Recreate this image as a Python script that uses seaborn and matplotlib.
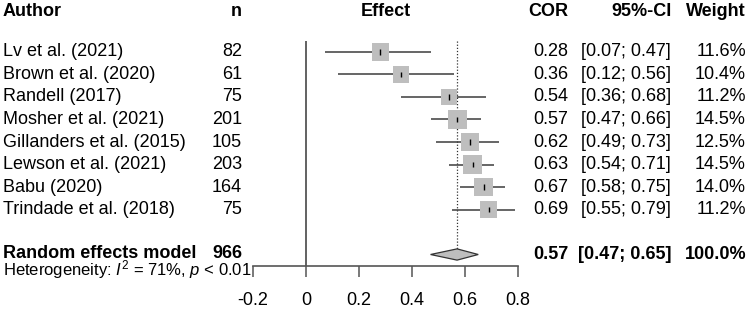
import numpy as np
import pandas as pd
import matplotlib
matplotlib.use("Agg")
import matplotlib.pyplot as plt
import matplotlib.transforms as mtransforms
import seaborn as sns

# study level data
authors = ["Lv et al. (2021)", "Brown et al. (2020)", "Randell (2017)", "Mosher et al. (2021)",
           "Gillanders et al. (2015)", "Lewson et al. (2021)", "Babu (2020)", "Trindade et al. (2018)"]
n_obs = [82, 61, 75, 201, 105, 203, 164, 75]
cor = [0.28, 0.36, 0.54, 0.57, 0.62, 0.63, 0.67, 0.69]
ci_lo = [0.07, 0.12, 0.36, 0.47, 0.49, 0.54, 0.58, 0.55]
ci_hi = [0.47, 0.56, 0.68, 0.66, 0.73, 0.71, 0.75, 0.79]
weights = [11.6, 10.4, 11.2, 14.5, 12.5, 14.5, 14.0, 11.2]

# pooled estimate
re_label = "Random effects model"
re_n = 966
re_cor = 0.57
re_lo = 0.47
re_hi = 0.65
re_weight = 100.0
i2 = 71

xticks = [-0.2, 0, 0.2, 0.4, 0.6, 0.8]
xtick_labels = ["-0.2", "0", "0.2", "0.4", "0.6", "0.8"]

df = pd.DataFrame(dict(author=authors, n=n_obs, cor=cor, lo=ci_lo, hi=ci_hi, weight=weights))
df["row"] = np.arange(len(df))
re_row = len(df) + 1

sns.set_theme(style="white")
plt.rcParams["font.family"] = ["Liberation Sans", "DejaVu Sans"]
plt.rcParams["text.color"] = "black"
plt.rcParams["mathtext.fontset"] = "custom"
plt.rcParams["mathtext.rm"] = "Liberation Sans"
plt.rcParams["mathtext.it"] = "Liberation Sans:italic"

W, H = 750, 309
fig = plt.figure(figsize=(W / 100, H / 100), dpi=100)
ax = fig.add_axes([253 / W, 43 / H, 265 / W, 266 / H])
ax.set_xlim(-0.2, 0.8)
ax.set_ylim(9.511, -2.311)

line_col = "#3c3c3c"
box_col = "#bebebe"

# reference lines
ax.vlines(0, -0.5, 9.511, color="#555555", lw=1.3, zorder=1)
ax.vlines(re_cor, -0.5, re_row - 0.25, color="#333333", lw=0.9, linestyles=(0, (1, 1.5)), zorder=1)

# confidence intervals
ax.hlines(df["row"], df["lo"], df["hi"], color=line_col, lw=1.1, zorder=2)

# weighted boxes
sns.scatterplot(data=df, x="cor", y="row", size="weight", sizes=(0, 1296), size_norm=(0, 100),
                marker="s", color=box_col, edgecolor="none", linewidth=0, legend=False, ax=ax, zorder=3)
ax.vlines(df["cor"], df["row"] - 0.13, df["row"] + 0.13, color="black", lw=1.0, zorder=4)

# diamond for pooled effect
ax.fill([re_lo, re_cor, re_hi, re_cor], [re_row, re_row - 0.25, re_row, re_row + 0.25],
        facecolor=box_col, edgecolor="#333333", lw=0.9, zorder=3)

ax.set_xlabel("")
ax.set_ylabel("")
ax.set_yticks([])
ax.set_xticks(xticks)
ax.set_xticklabels(xtick_labels)
for s in ["left", "right", "top"]:
    ax.spines[s].set_visible(False)
ax.spines["bottom"].set_color("#555555")
ax.spines["bottom"].set_linewidth(1.2)
ax.tick_params(axis="x", direction="out", length=8, width=1.1, color="#555555", pad=11,
               labelsize=13, labelcolor="black", bottom=True)

trans = mtransforms.blended_transform_factory(fig.transFigure, ax.transData)
fs = 13


def put(xpx, row, s, ha, bold=False, size=fs):
    ax.text(xpx / W, row, s, transform=trans, ha=ha, va="center", fontsize=size,
            fontweight="bold" if bold else "normal", color="black", clip_on=False)


hdr = -1.82
put(3, hdr, "Author", "left", True)
put(242, hdr, "n", "right", True)
ax.text(0.3, hdr, "Effect", ha="center", va="center", fontsize=fs, fontweight="bold",
        color="black", clip_on=False)
put(568, hdr, "COR", "right", True)
put(672, hdr, "95%-CI", "right", True)
put(746, hdr, "Weight", "right", True)

for _, r in df.iterrows():
    put(3, r["row"], r["author"], "left")
    put(242, r["row"], f"{int(r['n'])}", "right")
    put(568, r["row"], f"{r['cor']:.2f}", "right")
    put(671, r["row"], f"[{r['lo']:.2f}; {r['hi']:.2f}]", "right")
    put(746, r["row"], f"{r['weight']:.1f}%", "right")

put(3, re_row - 0.03, re_label, "left", True)
put(242, re_row - 0.03, f"{re_n}", "right", True)
put(568, re_row, f"{re_cor:.2f}", "right", True)
put(671, re_row, f"[{re_lo:.2f}; {re_hi:.2f}]", "right", True)
put(746, re_row, f"{re_weight:.1f}%", "right", True)
put(3, 9.68, f"Heterogeneity: $I^2$ = {i2}%, $p$ < 0.01", "left", size=12)

fig.savefig("out.png", dpi=100)
